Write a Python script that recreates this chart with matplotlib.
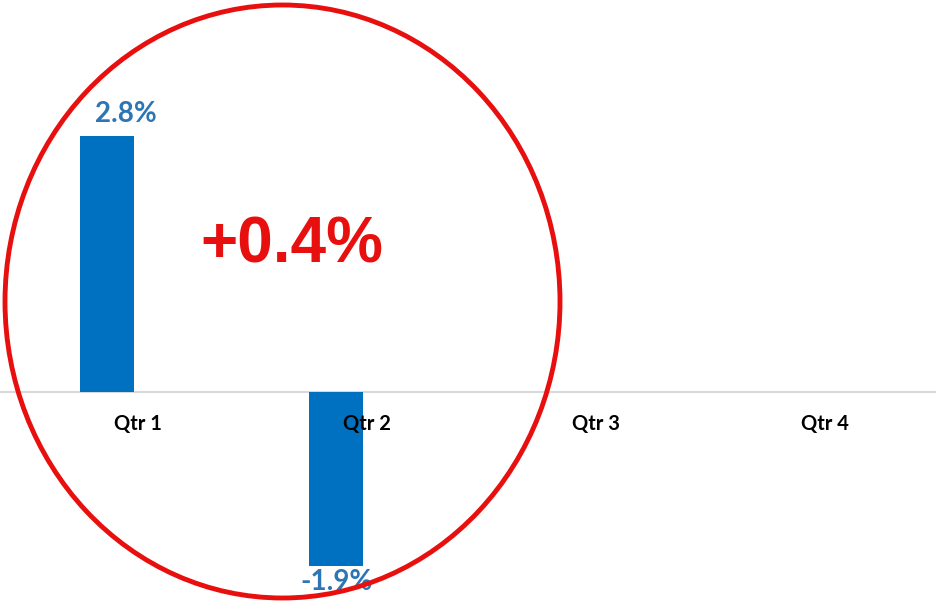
import matplotlib.pyplot as plt
from matplotlib.patches import Ellipse

# data
categories = ["Qtr 1", "Qtr 2", "Qtr 3", "Qtr 4"]
values = [2.8, -1.9, None, None]
labels = ["2.8%", "-1.9%", "", ""]
total_label = "+0.4%"

bar_color = "#0070C0"
label_color = "#2E75B6"

fig = plt.figure(figsize=(9.37, 6.03), dpi=100)
ax = fig.add_axes([0, 0, 1, 1])

x = list(range(len(categories)))
offset = -0.135
width = 0.236
for xi, v, lab in zip(x, values, labels):
    if v is None:
        continue
    ax.bar(xi + offset, v, width=width, color=bar_color)
    if v > 0:
        ax.text(xi + offset + 0.08, v + 0.24, lab, ha="center", va="center",
                fontsize=20, fontweight="bold", color=label_color, family="Lato")
    else:
        ax.text(xi + offset, v - 0.18, lab, ha="center", va="center",
                fontsize=20, fontweight="bold", color=label_color, family="Lato")

# category labels below axis line
for xi, c in zip(x, categories):
    ax.text(xi, -0.35, c, ha="center", va="center", fontsize=14.5,
            fontweight="bold", color="black", family="Lato")

ax.axhline(0, color="#D9D9D9", lw=1.5, zorder=0)
ax.set_xlim(-0.603, 3.489)
ax.set_ylim(-2.31, 4.29)
ax.axis("off")

# red ellipse highlight and total
ell = Ellipse((282.5 / 937, 1 - 301.5 / 603), 555 / 937, 593 / 603,
              transform=fig.transFigure, fill=False, edgecolor="#E8100F", lw=3.5)
fig.patches.append(ell)
fig.text(292 / 937, 1 - 246 / 603, total_label, ha="center", va="center",
         fontsize=46, fontweight="bold", color="#E8100F", family="Liberation Sans")

fig.savefig("out.png", dpi=100)
